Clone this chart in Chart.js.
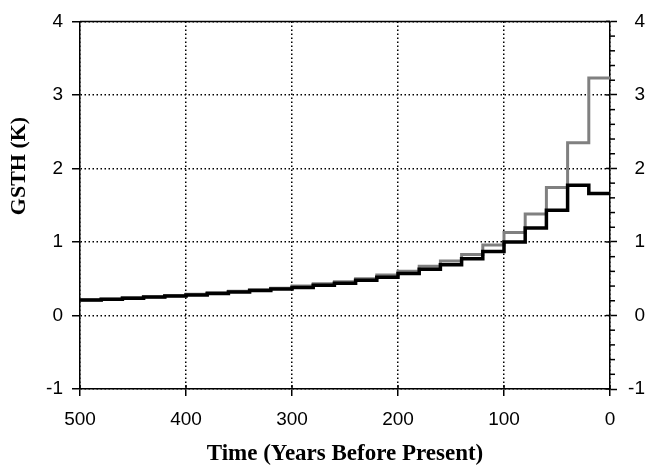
<!DOCTYPE html>
<html>
<head>
<meta charset="utf-8">
<script src="https://cdn.jsdelivr.net/npm/chart.js@4.4.1/dist/chart.umd.min.js"></script>
<style>
  html, body { margin: 0; padding: 0; background: #ffffff; }
  #c { display: block; }
</style>
</head>
<body>
<canvas id="c" width="645" height="468"></canvas>
<script>
// Interval edges (years before present), oldest first
const edges = [500, 480, 460, 440, 420, 400, 380, 360, 340, 320, 300, 280, 260, 240, 220, 200, 180, 160, 140, 120, 100, 80, 60, 40, 20, 0];
// GSTH value for each 20-year interval (from edge i to edge i+1)
const grayValues  = [0.21, 0.22, 0.24, 0.25, 0.27, 0.29, 0.31, 0.33, 0.35, 0.37, 0.40, 0.43, 0.46, 0.50, 0.55, 0.60, 0.67, 0.74, 0.83, 0.96, 1.13, 1.38, 1.74, 2.35, 3.23];
const blackValues = [0.21, 0.22, 0.235, 0.25, 0.265, 0.28, 0.30, 0.32, 0.34, 0.36, 0.38, 0.41, 0.44, 0.48, 0.52, 0.57, 0.63, 0.69, 0.77, 0.87, 1.00, 1.19, 1.43, 1.77, 1.66];
const xTicks = [500, 400, 300, 200, 100, 0];
const yTicks = [-1, 0, 1, 2, 3, 4];
const xTitle = 'Time (Years Before Present)';
const yTitle = 'GSTH (K)';

function stepPoints(vals) {
  const pts = vals.map((v, i) => ({ x: edges[i], y: v }));
  pts.push({ x: edges[edges.length - 1], y: vals[vals.length - 1] });
  return pts;
}

const DOT = [1.5, 2.5];
const TICK_FONT = { family: '"Liberation Sans", Arial, sans-serif', size: 19 };
const TITLE_FONT_FAMILY = '"Liberation Serif", "Times New Roman", serif';

const framePlugin = {
  id: 'frame',
  afterDraw(chart) {
    const { ctx, chartArea: a, scales } = chart;
    ctx.save();
    ctx.strokeStyle = '#000';
    ctx.lineWidth = 1.5;
    ctx.setLineDash([]);
    // top frame line
    ctx.beginPath();
    ctx.moveTo(a.left, a.top);
    ctx.lineTo(a.right, a.top);
    ctx.stroke();
    // right axis minor ticks (every 0.2) and inward part of major ticks
    const y2 = scales.y2;
    for (let k = -5; k <= 20; k++) {
      const py = y2.getPixelForValue(k / 5);
      ctx.beginPath();
      if (k % 5 === 0) {
        ctx.moveTo(a.right - 4, py);
        ctx.lineTo(a.right, py);
      } else {
        ctx.moveTo(a.right, py);
        ctx.lineTo(a.right + 5, py);
      }
      ctx.stroke();
    }
    // x axis inward tick stubs
    const xs = scales.x;
    xTicks.forEach(t => {
      const px = xs.getPixelForValue(t);
      ctx.beginPath();
      ctx.moveTo(px, a.bottom);
      ctx.lineTo(px, a.bottom - 4);
      ctx.stroke();
    });
    // y axis title (placed above centre, as in the original)
    ctx.translate(19, 166);
    ctx.rotate(-Math.PI / 2);
    ctx.fillStyle = '#000';
    ctx.font = 'bold 22px ' + TITLE_FONT_FAMILY;
    ctx.textAlign = 'center';
    ctx.textBaseline = 'middle';
    ctx.fillText(yTitle, 0, 0);
    ctx.restore();
  }
};

new Chart(document.getElementById('c'), {
  type: 'line',
  data: {
    datasets: [
      {
        label: 'black',
        data: stepPoints(blackValues),
        borderColor: '#000000',
        borderWidth: 3.5,
        stepped: 'before',
        pointRadius: 0,
        fill: false,
        order: 1
      },
      {
        label: 'gray',
        data: stepPoints(grayValues),
        borderColor: '#808080',
        borderWidth: 3,
        stepped: 'before',
        pointRadius: 0,
        fill: false,
        order: 2
      }
    ]
  },
  options: {
    responsive: false,
    animation: false,
    events: [],
    layout: { padding: { top: 19, left: 0, right: 0, bottom: 0 } },
    plugins: {
      legend: { display: false },
      tooltip: { enabled: false }
    },
    scales: {
      x: {
        type: 'linear',
        position: 'bottom',
        reverse: true,
        min: 0,
        max: 500,
        afterBuildTicks: (s) => { s.ticks = xTicks.map(v => ({ value: v })); },
        afterFit: (s) => { s.height = 79; },
        ticks: {
          color: '#000',
          padding: 12,
          font: TICK_FONT,
          maxRotation: 0
        },
        grid: {
          color: '#000',
          lineWidth: 1.5,
          tickLength: 7,
          tickColor: '#000',
          tickWidth: 1.5
        },
        border: { display: true, color: '#000', width: 1.5, dash: DOT },
        title: {
          display: true,
          text: xTitle,
          color: '#000',
          font: { family: TITLE_FONT_FAMILY, size: 23, weight: 'bold' },
          padding: { top: 0, bottom: 0 }
        }
      },
      y: {
        type: 'linear',
        position: 'left',
        min: -1,
        max: 4,
        afterBuildTicks: (s) => { s.ticks = yTicks.map(v => ({ value: v })); },
        afterFit: (s) => { s.width = 80; },
        ticks: {
          color: '#000',
          padding: 9,
          font: TICK_FONT
        },
        grid: {
          color: '#000',
          lineWidth: 1.5,
          tickLength: 8,
          tickColor: '#000',
          tickWidth: 1.5
        },
        border: { display: true, color: '#000', width: 1.5, dash: DOT },
        title: { display: false }
      },
      y2: {
        type: 'linear',
        position: 'right',
        min: -1,
        max: 4,
        afterBuildTicks: (s) => { s.ticks = yTicks.map(v => ({ value: v })); },
        afterFit: (s) => { s.width = 35; },
        ticks: {
          color: '#000',
          padding: 10,
          crossAlign: 'far',
          font: TICK_FONT
        },
        grid: {
          drawOnChartArea: false,
          tickLength: 7,
          tickColor: '#000',
          tickWidth: 1.5
        },
        border: { display: true, color: '#000', width: 1.5 }
      }
    }
  },
  plugins: [framePlugin]
});
</script>
</body>
</html>
